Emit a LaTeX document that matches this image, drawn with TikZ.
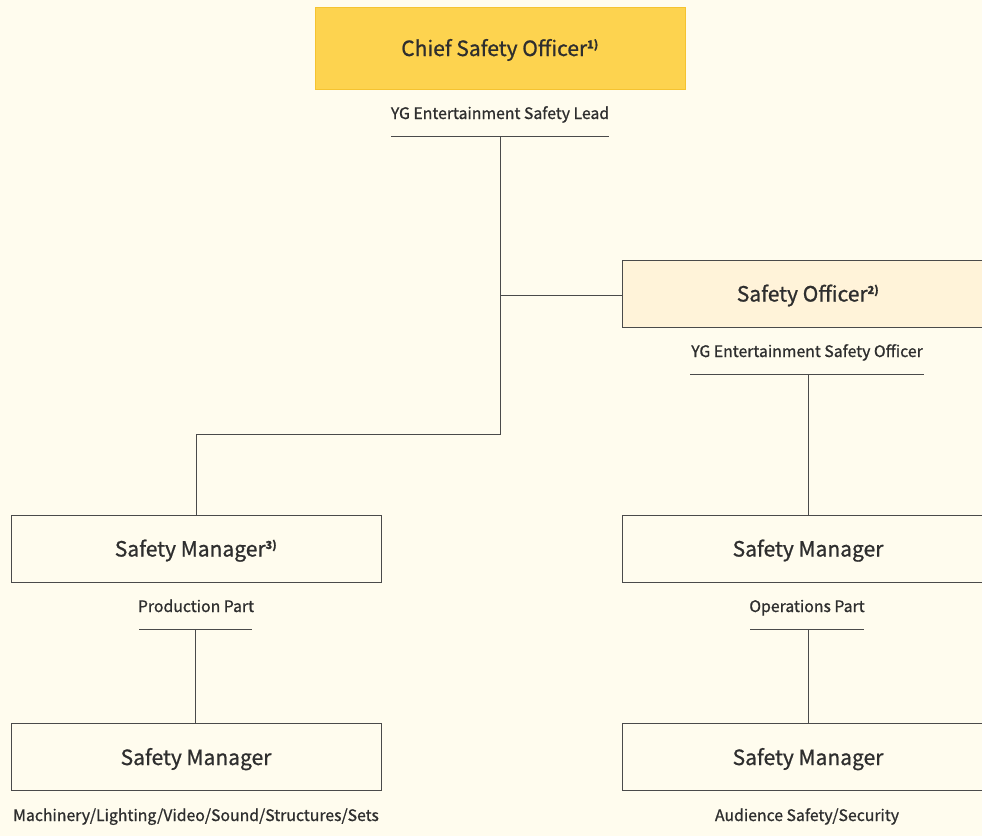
\documentclass[tikz,border=0pt]{standalone}
\usepackage{fontspec}
\setmainfont{Noto Sans CJK KR}[RawFeature={embolden=0.9}]
\definecolor{bgc}{HTML}{FFFCEE}
\definecolor{chieffill}{HTML}{FDD34F}
\definecolor{chiefdraw}{HTML}{F5C330}
\definecolor{offfill}{HTML}{FFF3D9}
\definecolor{ink}{HTML}{2E2E2E}
\definecolor{linec}{HTML}{4A4A4A}
\newcommand{\supnote}[1]{\textsuperscript{\fontsize{11}{11}\selectfont\bfseries #1}}
\begin{document}
\begin{tikzpicture}[x=1pt,y=-1pt,
  box/.style={draw=linec,line width=0.9pt,minimum width=370pt,minimum height=67pt,inner sep=0pt,
    font=\fontsize{21}{24}\selectfont,text=ink,fill=bgc,text height=16pt,text depth=0pt},
  sub/.style={font=\fontsize{15.8}{18}\selectfont,text=ink,inner sep=0pt,text height=12pt,text depth=0pt},
  conn/.style={draw=linec,line width=0.9pt}]
\useasboundingbox (0,0) rectangle (982,836);
\clip (0,0) rectangle (982,836);
\fill[bgc] (0,0) rectangle (982,836);
% top
\node[box,fill=chieffill,draw=chiefdraw,minimum height=82pt] (chief) at (500,48) {Chief Safety Officer\supnote{1)}};
\node[sub] (chiefsub) at (500,113) {YG Entertainment Safety Lead};
\coordinate (cul1) at (391,136); \coordinate (cul2) at (609,136);
\draw[conn] (cul1) -- (cul2);
\coordinate (ctop) at (500,136);
\coordinate (cmid) at (500,295);
\coordinate (cbot) at (500,434);
% safety officer
\node[box,fill=offfill,minimum width=372pt] (off) at (808,293.5) {Safety Officer\supnote{2)}};
\node[sub] (offsub) at (807,351) {YG Entertainment Safety Officer};
\coordinate (oul1) at (690,374); \coordinate (oul2) at (924,374);
\draw[conn] (oul1) -- (oul2);
\coordinate (otop) at (808,374);
% left column
\node[box] (lm1) at (196,548.5) {Safety Manager\supnote{3)}};
\node[sub] (lm1sub) at (196,606) {Production Part};
\coordinate (lul1) at (139,629); \coordinate (lul2) at (252,629);
\draw[conn] (lul1) -- (lul2);
\coordinate (ltop) at (195,629);
\node[box] (lm2) at (196,757) {Safety Manager};
\node[sub] (lm2sub) at (196,815) {Machinery/Lighting/Video/Sound/Structures/Sets};
% right column
\node[box,minimum width=372pt] (rm1) at (808,548.5) {Safety Manager};
\node[sub] (rm1sub) at (807,606) {Operations Part};
\coordinate (rul1) at (750,629); \coordinate (rul2) at (864,629);
\draw[conn] (rul1) -- (rul2);
\coordinate (rtop) at (808,629);
\node[box,minimum width=372pt] (rm2) at (808,757) {Safety Manager};
\node[sub] (rm2sub) at (807,815) {Audience Safety/Security};
% connectors
\draw[conn] (ctop) -- (cbot) -| (lm1.north);
\draw[conn] (cmid) -- (cmid -| off.west);
\draw[conn] (otop) -- (rm1.north);
\draw[conn] (ltop) -- (lm2.north -| ltop);
\draw[conn] (rtop) -- (rm2.north);
\end{tikzpicture}
\end{document}
